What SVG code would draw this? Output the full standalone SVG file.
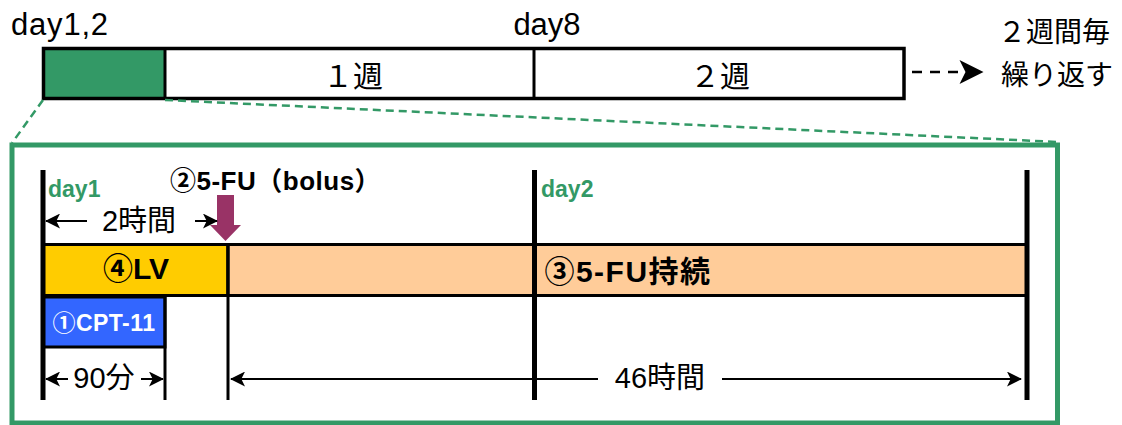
<svg xmlns="http://www.w3.org/2000/svg" width="1122" height="425" viewBox="0 0 1122 425">
<style>
  text { font-family: "Liberation Sans", "Noto Sans CJK JP", sans-serif; fill: #000; }
  .b { font-weight: bold; }
  .g { fill: #339966; }
  .w { fill: #ffffff; }
  .frame { fill: none; stroke: #000; stroke-width: 3.5; }
  .bar { stroke: #000; stroke-width: 3; }
  .thick { stroke: #000; stroke-width: 5; }
  .thin { stroke: #000; stroke-width: 3; }
  .dim { stroke: #000; stroke-width: 2; fill: none; }
  .zoom { stroke: #339966; stroke-width: 2.5; stroke-dasharray: 8 5; fill: none; }
</style>
<defs>
  <marker id="ah" markerUnits="userSpaceOnUse" viewBox="0 0 16 16" refX="15" refY="8" markerWidth="15" markerHeight="15" orient="auto-start-reverse">
    <path d="M0,0 L16,8 L0,16 L4,8 Z" fill="#000"/>
  </marker>
  <marker id="ahBig" markerUnits="userSpaceOnUse" viewBox="0 0 16 16" refX="15" refY="8" markerWidth="26" markerHeight="24" orient="auto">
    <path d="M0,0 L16,8 L0,16 L4,8 Z" fill="#000"/>
  </marker>
</defs>

<!-- top cycle timeline -->
<g id="cycle">
  <rect x="43.5" y="48.5" width="121.5" height="50" fill="#339966"/>
  <rect x="43.5" y="48.5" width="860.5" height="50" class="frame"/>
  <line x1="165" y1="48.5" x2="165" y2="98.5" class="thin"/>
  <line x1="534" y1="48.5" x2="534" y2="98.5" class="thin"/>
  <text x="11" y="35" font-size="31" letter-spacing="0.8">day1,2</text>
  <text x="547" y="35" font-size="31" text-anchor="middle">day8</text>
  <text x="353" y="87" font-size="30" text-anchor="middle">１週</text>
  <text x="720" y="87" font-size="30" text-anchor="middle">２週</text>
</g>

<g id="repeat">
  <text x="998" y="42" font-size="28">２週間毎</text>
  <text x="1001" y="85" font-size="28">繰り返す</text>
</g>

<!-- detail box -->
<g id="detail">
  <rect x="12" y="145" width="1045.5" height="278" fill="#fff" stroke="#339966" stroke-width="5"/>
</g>

<g id="lv">
  <rect x="43" y="244.5" width="185" height="51" fill="#FFCC00" class="bar"/>
  <text x="136" y="279" font-size="30" class="b" text-anchor="middle">④LV</text>
</g>

<g id="fu-cont">
  <rect x="228" y="244.5" width="799" height="51" fill="#FFCC99" class="bar"/>
  <text x="628" y="282" font-size="30" class="b" letter-spacing="1.5" text-anchor="middle">③5-FU持続</text>
</g>

<g id="cpt">
  <rect x="43" y="297" width="122" height="50" fill="#3366FF" class="bar"/>
  <text x="104" y="331" font-size="23" class="b w" letter-spacing="0.5" text-anchor="middle">①CPT-11</text>
</g>

<g id="bolus">
  <text x="170" y="190" font-size="26" class="b" letter-spacing="0.5">②5-FU（bolus）</text>
  <path d="M217,195 L234,195 L234,225 L241,225 L225.5,241 L210,225 L217,225 Z" fill="#993366"/>
</g>

<g id="day-labels">
  <text x="48" y="197" font-size="23" class="b g">day1</text>
  <text x="541" y="197" font-size="23" class="b g">day2</text>
</g>

<!-- connectors / guide lines -->
<g id="connectors">
  <line x1="43" y1="100" x2="12" y2="143" class="zoom"/>
  <line x1="165" y1="100" x2="1058" y2="142" class="zoom"/>
  <line x1="912" y1="72" x2="982" y2="72" stroke="#000" stroke-width="2.5" stroke-dasharray="10 8" marker-end="url(#ahBig)"/>

  <line x1="43" y1="170" x2="43" y2="400" class="thick"/>
  <line x1="534.5" y1="170" x2="534.5" y2="400" class="thick"/>
  <line x1="1027" y1="170" x2="1027" y2="400" class="thick"/>
  <line x1="165" y1="297" x2="165" y2="400" class="thin"/>
  <line x1="228" y1="243" x2="228" y2="400" class="thin"/>

  <line x1="87" y1="221" x2="46" y2="221" class="dim" marker-end="url(#ah)"/>
  <line x1="195" y1="221" x2="217" y2="221" class="dim" marker-end="url(#ah)"/>
  <line x1="68" y1="379" x2="46" y2="379" class="dim" marker-end="url(#ah)"/>
  <line x1="141" y1="379" x2="163" y2="379" class="dim" marker-end="url(#ah)"/>
  <line x1="598" y1="379" x2="231" y2="379" class="dim" marker-end="url(#ah)"/>
  <line x1="722" y1="379" x2="1021" y2="379" class="dim" marker-end="url(#ah)"/>
</g>

<g id="durations">
  <text x="139" y="231" font-size="29" text-anchor="middle">2時間</text>
  <text x="104" y="388" font-size="29" text-anchor="middle">90分</text>
  <text x="660" y="388" font-size="29" text-anchor="middle">46時間</text>
</g>
</svg>
